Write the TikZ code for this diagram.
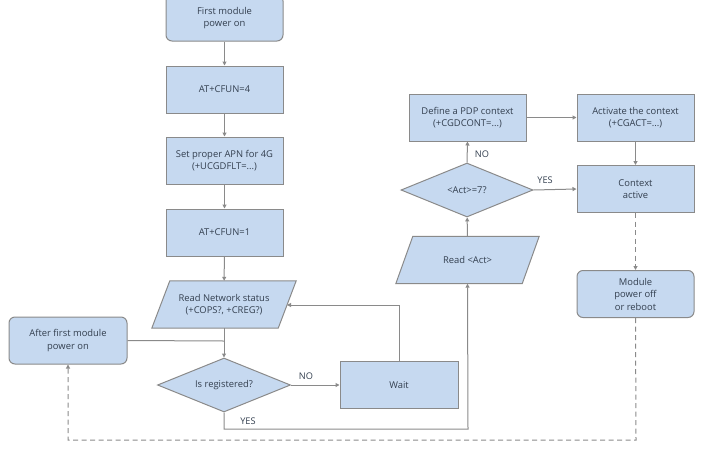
\documentclass[tikz,border=0pt]{standalone}
\usepackage{fontspec}
\setmainfont{Open Sans}
\usetikzlibrary{arrows.meta,shapes.geometric,backgrounds}
\definecolor{boxfill}{HTML}{C6D9F0}
\definecolor{boxline}{HTML}{8A8A8A}
\definecolor{txt}{HTML}{333F4F}
\begin{document}
\begin{tikzpicture}[x=1pt,y=-1pt,
  font=\fontsize{9.4}{12.5}\selectfont, text=txt,
  proc/.style={draw=boxline, fill=boxfill, line width=1pt, minimum width=117pt, minimum height=47pt, align=center, inner sep=0pt},
  term/.style={proc, rounded corners=6pt},
  para/.style={minimum width=126pt, minimum height=47pt, align=center, inner sep=0pt},
  decision/.style={draw=boxline, fill=boxfill, line width=1pt, diamond, aspect=2.45, minimum width=133pt, minimum height=54pt, inner sep=0pt, align=center},
  paraline/.style={draw=boxline, fill=boxfill, line width=1pt},
  conn/.style={draw=boxline, line width=1pt, -{Triangle[length=4pt,width=4pt]}},
  plain/.style={draw=boxline, line width=1pt},
  dconn/.style={draw=boxline, line width=1pt, dash pattern=on 5pt off 3.5pt},
  lbl/.style={font=\fontsize{9.2}{10}\selectfont, inner sep=1pt}
]
\useasboundingbox (0,0) rectangle (701,453);
% nodes
\node[term, minimum height=46pt] (start) at (224.5,18) {First module\\power on};
\node[proc] (cfun4) at (224.5,89.5) {AT+CFUN=4};
\node[proc] (apn) at (224.5,160.5) {Set proper APN for 4G\\(+UCGDFLT=...)};
\node[proc] (cfun1) at (224.5,232.5) {AT+CFUN=1};
\node[para] (rns) at (224,304.5) {Read Network status\\(+COPS?, +CREG?)};
\node[term, minimum width=118pt] (after) at (68,340.5) {After first module\\power on};
\node[decision] (isreg) at (224,385) {Is registered?};
\node[proc, minimum width=118pt] (wait) at (399,385) {Wait};
\node[para] (ract) at (467.5,260) {Read <Act>};
\node[decision, minimum width=132pt] (act) at (467,190) {<Act>=7?};
\node[proc] (pdp) at (467.5,117.5) {Define a PDP context\\(+CGDCONT=...)};
\node[proc] (cgact) at (635.5,117.5) {Activate the context\\(+CGACT=...)};
\node[proc] (ctx) at (635.5,189) {Context\\active};
\node[term] (off) at (635.5,294) {Module\\power off\\or reboot};
% parallelogram outlines
\begin{scope}[on background layer]
\path[paraline] ([xshift=9pt]rns.north west) -- ([xshift=9pt]rns.north east) -- ([xshift=-9pt]rns.south east) -- ([xshift=-9pt]rns.south west) -- cycle;
\path[paraline] ([xshift=8.5pt]ract.north west) -- ([xshift=8.5pt]ract.north east) -- ([xshift=-8.5pt]ract.south east) -- ([xshift=-8.5pt]ract.south west) -- cycle;
\end{scope}
\coordinate (rnsin) at (287,305);
\coordinate (join) at (224,341);
\coordinate (yesc) at (224,429);
\coordinate (yesr) at (468,429);
\coordinate (dashbr) at (636,440);
\coordinate (dashbl) at (68,440);
% connectors
\draw[conn] (start) -- (cfun4);
\draw[conn] (cfun4) -- (apn);
\draw[conn] (apn) -- (cfun1);
\draw[conn] (cfun1) -- (rns);
\draw[conn] (rns) -- (isreg);
\draw[plain] (after.east) -- (join);
\draw[conn] (isreg.east) -- (wait.west);
\node[lbl] (nolbl1) at (306,376) {NO};
\draw[conn] (wait.north) |- (rnsin);
\draw[conn] (isreg.south) -- (yesc) -- (yesr) -- (ract.south);
\node[lbl] (yeslbl) at (248,421) {YES};
\draw[conn] (ract) -- (act);
\draw[conn] (act.north) -- (pdp.south);
\node[lbl] (nolbl) at (482,154) {NO};
\draw[conn] (act.east) -- (ctx.west);
\node[lbl] (yeslbl2) at (545,180) {YES};
\draw[conn] (pdp) -- (cgact);
\draw[conn] (cgact) -- (ctx);
\draw[dconn, -{Triangle[length=4pt,width=4pt]}] (ctx) -- (off);
\draw[dconn, -{Triangle[length=4pt,width=4pt]}] (off.south) -- (dashbr) -- (dashbl) -- (after.south);
\end{tikzpicture}
\end{document}
